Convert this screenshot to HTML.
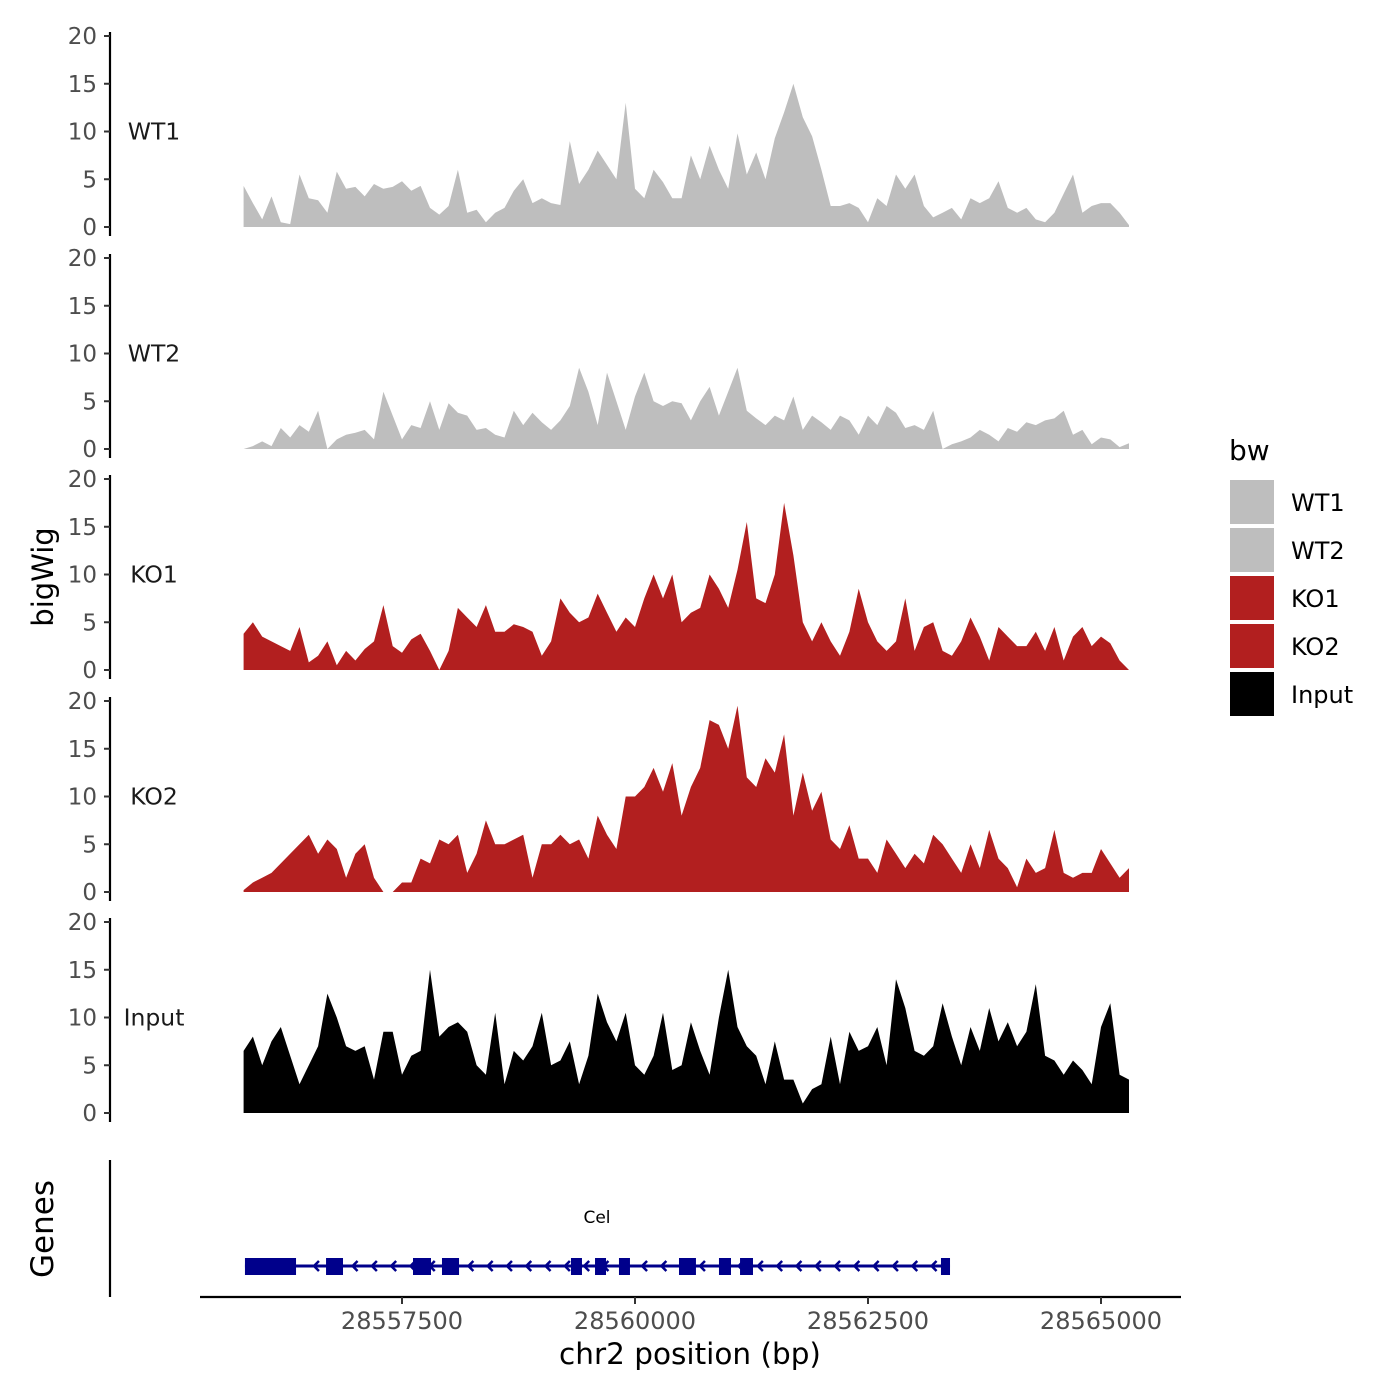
<!DOCTYPE html>
<html><head><meta charset="utf-8"><style>
body{margin:0;background:#fff;}
svg{display:block;font-family:"DejaVu Sans","Liberation Sans",sans-serif;}
</style></head><body>
<svg id="chart" width="1400" height="1400" viewBox="0 0 1400 1400" xmlns="http://www.w3.org/2000/svg">
<text x="0" y="0" transform="translate(53,577) rotate(-90)" text-anchor="middle" font-size="29" fill="#000">bigWig</text>
<text x="0" y="0" transform="translate(53,1229) rotate(-90)" text-anchor="middle" font-size="31" fill="#000">Genes</text>
<text x="690" y="1364" text-anchor="middle" font-size="29.5" fill="#000">chr2 position (bp)</text>
<text x="1229" y="460" font-size="28" fill="#000">bw</text>
<g id="g"></g>
</svg>
<script>
const trackNames = ["WT1","WT2","KO1","KO2","Input"];
const trackColors = ["#bebebe","#bebebe","#b21f1f","#b21f1f","#000000"];
const startBp = 28555800;
const stepBp = 100;
const wt1 = [4.3,2.5,0.8,3.2,0.5,0.3,5.5,3.0,2.8,1.5,5.8,4.0,4.2,3.2,4.5,4.0,4.2,4.8,3.8,4.3,2.0,1.3,2.2,6.0,1.5,1.8,0.5,1.5,2.0,3.8,5.0,2.5,3.0,2.5,2.3,9.0,4.5,6.0,8.0,6.5,5.0,13.0,4.0,3.0,6.0,4.7,3.0,3.0,7.5,5.0,8.5,6.0,4.0,9.8,5.5,7.8,5.0,9.3,12.0,15.0,11.5,9.5,6.0,2.2,2.2,2.5,2.0,0.5,3.0,2.2,5.5,4.0,5.5,2.2,1.0,1.5,2.0,0.8,3.0,2.5,3.0,4.8,2.0,1.5,2.0,0.8,0.5,1.5,3.5,5.5,1.5,2.2,2.5,2.5,1.5,0.2];
const wt2 = [0,0.3,0.8,0.3,2.2,1.2,2.5,1.8,4.0,0,1.0,1.5,1.7,2.0,1.0,6.0,3.5,1.0,2.5,2.2,5.0,2.0,4.8,3.8,3.5,2.0,2.2,1.5,1.2,4.0,2.5,3.8,2.8,2.0,3.0,4.5,8.5,6.0,2.5,8.0,5.0,2.0,5.5,8.0,5.0,4.5,5.0,4.8,3.0,5.0,6.5,3.5,6.0,8.5,4.0,3.2,2.5,3.5,3.0,5.5,2.0,3.5,2.8,2.0,3.5,3.0,1.5,3.5,2.5,4.5,3.8,2.2,2.5,2.0,4.0,0,0.5,0.8,1.2,2.0,1.5,0.8,2.2,1.8,2.8,2.5,3.0,3.2,4.0,1.5,2.0,0.5,1.2,1.0,0.2,0.6];
const ko1 = [3.8,5.0,3.5,3.0,2.5,2.0,4.5,0.8,1.5,3.0,0.5,2.0,1.0,2.2,3.0,6.8,2.5,1.8,3.2,3.8,2.0,0,2.0,6.5,5.5,4.5,6.8,4.0,4.0,4.8,4.5,4.0,1.5,3.0,7.5,6.0,5.0,5.5,8.0,6.0,4.0,5.5,4.5,7.5,10.0,7.5,10.0,5.0,6.0,6.5,10.0,8.5,6.5,10.5,15.5,7.5,7.0,10.0,17.5,12.0,5.0,3.0,5.0,3.0,1.5,4.0,8.5,5.0,3.0,2.0,3.0,7.5,2.0,4.5,5.0,2.0,1.5,3.0,5.5,3.5,1.0,4.5,3.5,2.5,2.5,4.0,2.0,4.5,1.0,3.5,4.5,2.5,3.5,2.8,1.0,0];
const ko2 = [0.2,1.0,1.5,2.0,3.0,4.0,5.0,6.0,4.0,5.5,4.5,1.5,4.0,5.0,1.5,0,0,1.0,1.0,3.5,3.0,5.5,5.0,6.0,2.0,4.0,7.5,5.0,5.0,5.5,6.0,1.5,5.0,5.0,6.0,5.0,5.5,3.5,8.0,6.0,4.5,10.0,10.0,11.0,13.0,10.5,13.5,8.0,11.0,13.0,18.0,17.5,15.0,19.5,12.0,11.0,14.0,12.5,16.5,8.0,12.5,8.5,10.5,5.5,4.5,7.0,3.5,3.5,2.0,5.5,4.0,2.5,4.0,3.0,6.0,5.0,3.5,2.0,5.0,2.5,6.5,3.5,2.5,0.5,3.5,2.0,2.5,6.5,2.0,1.5,2.0,2.0,4.5,3.0,1.5,2.5];
const inputVals = [6.5,8.0,5.0,7.5,9.0,6.0,3.0,5.0,7.0,12.5,10.0,7.0,6.5,7.0,3.5,8.5,8.5,4.0,6.0,6.5,15.0,8.0,9.0,9.5,8.5,5.0,4.0,10.5,3.0,6.5,5.5,7.0,10.5,5.0,5.5,7.5,3.0,6.0,12.5,9.5,7.5,10.5,5.0,4.0,6.0,10.5,4.5,5.0,9.5,6.5,4.0,10.0,15.0,9.0,7.0,6.0,3.0,7.5,3.5,3.5,1.0,2.5,3.0,8.0,3.0,8.5,6.5,7.0,9.0,5.0,14.0,11.0,6.5,6.0,7.0,11.5,8.0,5.0,9.0,6.5,11.0,7.5,9.5,7.0,8.5,13.5,6.0,5.5,4.0,5.5,4.5,3.0,9.0,11.5,4.0,3.5];
const yTicks = [0,5,10,15,20];
const xTicks = [28557500,28560000,28562500,28565000];
const exonStarts = [28555815,28556685,28557618,28557929,28559313,28559571,28559828,28560472,28560901,28561127,28563283];
const exonEnds = [28556363,28556867,28557811,28558112,28559431,28559689,28559946,28560654,28561030,28561266,28563380];
const geneName = "Cel";

const NS="http://www.w3.org/2000/svg";
const G=document.getElementById('g');
function el(tag,attrs,parent){const e=document.createElementNS(NS,tag);for(const k in attrs)e.setAttribute(k,attrs[k]);(parent||G).appendChild(e);return e;}
function xs(bp){return 635+(bp-28560000)*233/2500;}
const panelZero=[227,449,670,892,1113];
function ys(i,v){return panelZero[i]-v*9.55;}
const series=[wt1,wt2,ko1,ko2,inputVals];

series.forEach((vals,i)=>{
  const g=el('g',{});
  
  
  let d='M'+xs(startBp).toFixed(1)+','+ys(i,0);
  vals.forEach((v,j)=>{d+=' L'+xs(startBp+j*stepBp).toFixed(1)+','+ys(i,v).toFixed(1);});
  d+=' L'+xs(startBp+(vals.length-1)*stepBp).toFixed(1)+','+ys(i,0)+' Z';
  const p=el('path',{d:d,fill:trackColors[i]},g);
  
  
  const ax=el('line',{x1:110,x2:110,y1:ys(i,20)-4,y2:ys(i,0)+9,stroke:'#000','stroke-width':2.2},g);
  
  
  yTicks.forEach(t=>{
    const y=ys(i,t);
    el('line',{x1:104,x2:110,y1:y,y2:y,stroke:'#333','stroke-width':2},g);
    const tx=el('text',{x:97,y:y+8,'text-anchor':'end','font-size':23,fill:'#4d4d4d'},g);
    tx.textContent=t;
    
    
  });
  const lab=el('text',{x:154,y:ys(i,10)+8,'text-anchor':'middle','font-size':23.5,fill:'#1a1a1a'},g);
  lab.textContent=trackNames[i];
  
  
});

// gene track
const gg=el('g',{});


el('line',{x1:110,x2:110,y1:1160,y2:1297,stroke:'#000','stroke-width':2.2},gg);
const gx0=xs(exonStarts[0]), gx1=xs(exonEnds[exonEnds.length-1]);
el('line',{x1:gx0,x2:gx1,y1:1266,y2:1266,stroke:'#00008b','stroke-width':3},gg);
for(let x=gx0+70;x<gx1-5;x+=19.3){
  el('polyline',{points:(x+4)+',1261 '+(x-1)+',1266 '+(x+4)+',1271',fill:'none',stroke:'#00008b','stroke-width':2.5},gg);
}
exonStarts.forEach((s,k)=>{
  const r=el('rect',{x:xs(s),y:1258,width:xs(exonEnds[k])-xs(s),height:17,fill:'#00008b'},gg);
  
  
});
const gn=el('text',{x:597,y:1223,'text-anchor':'middle','font-size':17,fill:'#000'},gg);
gn.textContent=geneName;



// x axis
const xa=el('g',{});


el('line',{x1:200,x2:1181,y1:1297,y2:1297,stroke:'#000','stroke-width':2.2},xa);
xTicks.forEach(t=>{
  el('line',{x1:xs(t),x2:xs(t),y1:1297,y2:1304,stroke:'#333','stroke-width':2},xa);
  const tx=el('text',{x:xs(t),y:1329,'text-anchor':'middle','font-size':24,fill:'#4d4d4d'},xa);
  tx.textContent=t;
  
  
});

// legend
const lg=el('g',{});


trackNames.forEach((n,i)=>{
  const y=480+i*48;
  const r=el('rect',{x:1230,y:y,width:44,height:44,fill:trackColors[i]},lg);
  
  
  const t=el('text',{x:1291,y:y+31,'font-size':24,fill:'#000'},lg);
  t.textContent=n;
  
  
});
</script>
</body></html>
